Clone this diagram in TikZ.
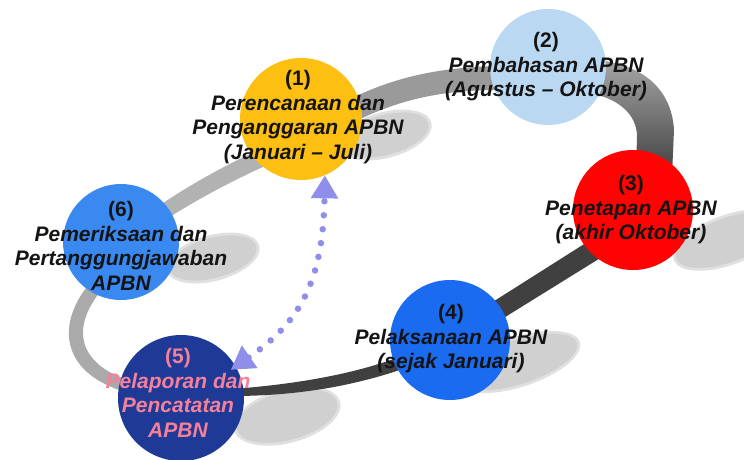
\documentclass[tikz,border=0pt]{standalone}
\usepackage{fontspec}
\setmainfont{Liberation Sans}
\usetikzlibrary{arrows.meta,calc}

% stage colours
\definecolor{stageyellow}{HTML}{FCBF12}
\definecolor{stagesky}{HTML}{BBD8F2}
\definecolor{stagered}{HTML}{FF0303}
\definecolor{stageblue}{HTML}{1A6BF0}
\definecolor{stagenavy}{HTML}{1F3A96}
\definecolor{stageazure}{HTML}{3A89F0}
% ribbon and floor shadows
\definecolor{ribbondark}{HTML}{404040}
\definecolor{ribbonmid}{HTML}{9A9A9A}
\definecolor{ribbonlight}{HTML}{B2B2B2}
\definecolor{ribbonpale}{HTML}{AAAAAA}
\definecolor{floorshadow}{HTML}{D0D0D0}
\definecolor{floorhalo}{HTML}{E0E0E0}
% text and link
\definecolor{ink}{HTML}{141414}
\definecolor{pinkink}{HTML}{F5809A}
\definecolor{linkviolet}{HTML}{8F8FEA}

\begin{document}
\begin{tikzpicture}[x=1pt,y=-1pt,
  stage/.style={circle, inner sep=0pt, draw=none, minimum size=#1},
  caption/.style={align=center, inner sep=0pt, text=ink,
    font=\bfseries\itshape\fontsize{21}{24.5}\selectfont},
  linkarrow/.style={draw=linkviolet, line width=6.5pt, line cap=round,
    dash pattern=on 0pt off 14pt,
    {Triangle[length=23pt,width=26pt]}-{Triangle[length=23pt,width=26pt]}}
]
\useasboundingbox (0,0) rectangle (744,459);

% floor shadows under the stages: a pale halo and a darker core
\foreach \cx/\cy/\rx/\ry/\ang in {385/135/45/20/15, 728/240/55/22/20,
    518/362/62/22/18, 287/416/52/24/15, 213/258/45/20/15}{
  \fill[floorhalo, rotate around={\ang:(\cx,\cy)}] (\cx,\cy) ellipse [x radius=\rx+3, y radius=\ry+3];
  \fill[floorshadow, rotate around={\ang:(\cx,\cy)}] (\cx,\cy) ellipse [x radius=\rx, y radius=\ry];
}

% the ribbon of the cycle
% front part: (5) -> (4) -> (3)
\fill[ribbondark] (232,389) .. controls (300,384) and (370,372) .. (420,348)
  -- (600,234) -- (610,252) -- (460,345)
  .. controls (380,385) and (300,396) .. (232,396) -- cycle;
% rising part: (3) -> (2)
\shade[top color=black!35, middle color=black!62, bottom color=black!75]
  (672,175) -- (674,130) .. controls (672,95) and (650,66) .. (598,60)
  -- (594,94) .. controls (620,100) and (636,115) .. (637,135)
  -- (636,175) -- cycle;
% back part: (2) -> (1)
\fill[ribbonmid] (352,98) .. controls (390,80) and (430,68) .. (495,66)
  -- (500,90) .. controls (440,90) and (400,100) .. (358,120) -- cycle;
% back part: (1) -> (6)
\fill[ribbonlight] (258,150) .. controls (220,168) and (190,185) .. (160,205)
  -- (168,218) .. controls (200,198) and (230,182) .. (265,166) -- cycle;
% side part: (6) -> (5)
\fill[ribbonpale] (86,288) .. controls (58,325) and (60,372) .. (125,392)
  -- (128,380) .. controls (80,364) and (70,330) .. (100,292) -- cycle;

% stages
\node[stage=122, fill=stageyellow] (c1) at (301,119) {};
\node[stage=116, fill=stagesky]    (c2) at (548,67)  {};
\node[stage=120, fill=stagered]    (c3) at (633,210) {};
\node[stage=120, fill=stageblue]   (c4) at (450,340) {};
\node[stage=126, fill=stagenavy]   (c5) at (181,398) {};
\node[stage=116, fill=stageazure]  (c6) at (121,242) {};

% stage captions
\node[caption] (t1) at (298,117) {{\upshape (1)}\\Perencanaan dan\\Penganggaran APBN\\(Januari – Juli)};
\node[caption] (t2) at (546,67)  {{\upshape (2)}\\Pembahasan APBN\\(Agustus – Oktober)};
\node[caption] (t3) at (631,210) {{\upshape (3)}\\Penetapan APBN\\(akhir Oktober)};
\node[caption] (t4) at (451,339) {{\upshape (4)}\\Pelaksanaan APBN\\(sejak Januari)};
\node[caption, text=pinkink] (t5) at (178,393) {{\upshape (5)}\\Pelaporan dan\\Pencatatan\\APBN};
\node[caption] (t6) at (121,246) {{\upshape (6)}\\Pemeriksaan dan\\Pertanggungjawaban\\APBN};

% two-way link between reporting and planning
\draw[linkarrow, shorten <=-6pt] (c5.30) .. controls (300,322) and (323,282) .. (c1.-67);
\end{tikzpicture}
\end{document}
